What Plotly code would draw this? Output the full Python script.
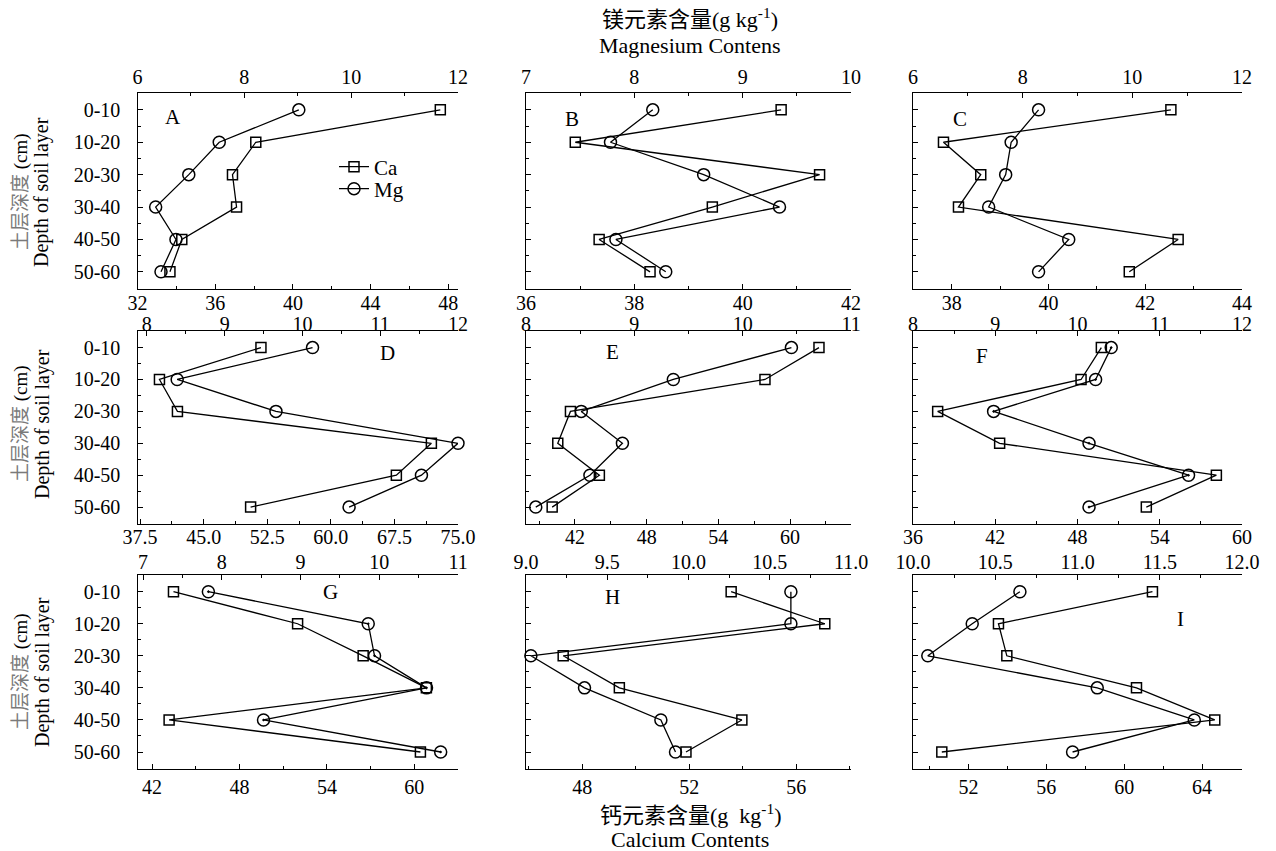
import plotly.graph_objects as go

# ---------------- data ----------------
depths = ["0-10", "10-20", "20-30", "30-40", "40-50", "50-60"]
panel_names = ["A", "B", "C", "D", "E", "F", "G", "H", "I"]

ca_A = [47.59, 38.09, 36.89, 37.10, 34.28, 33.67]
mg_A = [9.02, 7.53, 6.96, 6.34, 6.72, 6.44]
ca_B = [40.71, 36.91, 41.42, 39.44, 37.35, 38.29]
mg_B = [8.17, 7.78, 8.64, 9.34, 7.83, 8.29]
ca_C = [42.53, 37.83, 38.60, 38.14, 42.68, 41.67]
mg_C = [8.29, 7.79, 7.69, 7.38, 8.84, 8.29]
ca_D = [51.76, 39.79, 41.91, 71.86, 67.73, 50.54]
mg_D = [10.13, 8.39, 9.66, 12.0, 11.53, 10.60]
ca_E = [62.42, 57.90, 41.62, 40.56, 44.04, 40.09]
mg_E = [10.45, 9.36, 8.51, 8.89, 8.59, 8.09]
ca_F = [49.74, 48.26, 37.80, 42.32, 58.13, 53.02]
mg_F = [10.41, 10.22, 8.98, 10.14, 11.35, 10.14]
ca_G = [43.47, 51.99, 56.49, 60.83, 43.17, 60.42]
mg_G = [7.83, 9.86, 9.94, 10.60, 8.53, 10.78]
ca_H = [53.57, 57.07, 47.29, 49.39, 53.97, 51.88]
mg_H = [10.63, 10.63, 9.03, 9.36, 9.83, 9.92]
ca_I = [61.45, 53.54, 53.97, 60.63, 64.65, 50.63]
mg_I = [10.65, 10.36, 10.09, 11.12, 11.71, 10.97]

ca_all = [ca_A, ca_B, ca_C, ca_D, ca_E, ca_F, ca_G, ca_H, ca_I]
mg_all = [mg_A, mg_B, mg_C, mg_D, mg_E, mg_F, mg_G, mg_H, mg_I]

# axis settings per panel: (range, tick0, dtick, format)
ca_axes = [
    ([32, 48.5], 32, 4, ""), ([36, 42], 36, 2, ""), ([37.2, 44], 38, 2, ""),
    ([37.2, 75.0], 37.5, 7.5, ".1f"), ([37.9, 65.1], 42, 6, ""), ([36, 60], 36, 6, ""),
    ([41, 63], 42, 6, ""), ([45.9, 58.05], 48, 4, ""), ([49.15, 66.05], 52, 4, ""),
]
mg_axes = [
    ([6, 12], 6, 2, ""), ([7, 10], 7, 1, ""), ([6, 12], 6, 2, ""),
    ([7.88, 12], 8, 1, ""), ([8, 11], 8, 1, ""), ([8, 12], 8, 1, ""),
    ([6.93, 11], 7, 1, ""), ([9, 11], 9, 0.5, ".1f"), ([10, 12], 10, 0.5, ".1f"),
]
dot_circles = [False, False, False, False, False, True, True, False, False]

# ---------------- layout geometry ----------------
W, H = 1276, 851
col_px = [(137.5, 458), (526, 851), (913, 1242)]
row_px = [(93, 289), (331, 524), (575, 769)]
top_label_standoff = [0, -9, -3]
bottom_label_standoff = [-4, -5, 0]
letter_px = [(173, 117), (572, 119), (960, 119), (388, 353), (612, 352),
             (982, 356), (330, 592), (612, 597), (1180, 619)]

FONT = "Liberation Serif, Noto Sans CJK SC, serif"
tickfont = dict(family=FONT, size=20, color="black")

fig = go.Figure()
legend_common = dict(xanchor="left", yanchor="middle",
                     font=dict(family=FONT, size=21, color="black"),
                     bgcolor="rgba(0,0,0,0)", itemwidth=30, tracegroupgap=0)
layout = dict(
    width=W, height=H, margin=dict(l=0, r=0, t=0, b=0, autoexpand=False),
    paper_bgcolor="white", plot_bgcolor="white",
    font=dict(family=FONT, color="black"),
    showlegend=True,
    legend=dict(legend_common, x=334 / W, y=1 - 167 / H),
    legend2=dict(legend_common, x=334 / W, y=1 - 189 / H),
)

yidx = list(range(len(depths)))

def axname(kind, n):
    return kind + ("axis" if n == 1 else f"axis{n}")

def axref(kind, n):
    return kind + ("" if n == 1 else str(n))

for i in range(9):
    r, c = divmod(i, 3)
    x0, x1 = col_px[c]
    y0, y1 = row_px[r]
    bx, tx, yy = 2 * i + 1, 2 * i + 2, i + 1
    common = dict(showgrid=False, zeroline=False, showline=True, linecolor="black",
                  linewidth=1.3, ticks="inside", ticklen=5, tickwidth=1.2,
                  tickcolor="black", tickfont=tickfont, mirror=False, automargin=False,
                  minor=dict(ticks="inside", ticklen=3, tickcolor="black", tickwidth=1))
    rng, t0, dt, fmt = ca_axes[i]
    layout[axname("x", bx)] = dict(
        common, domain=[x0 / W, x1 / W], anchor=axref("y", yy), side="bottom",
        range=rng, tick0=t0, dtick=dt, tickformat=fmt,
        ticklabelstandoff=bottom_label_standoff[r],
        minor=dict(common["minor"], dtick=dt / 2, tick0=t0))
    rng, t0, dt, fmt = mg_axes[i]
    layout[axname("x", tx)] = dict(
        common, overlaying=axref("x", bx), anchor=axref("y", yy), side="top",
        range=rng, tick0=t0, dtick=dt, tickformat=fmt,
        ticklabelstandoff=top_label_standoff[r],
        minor=dict(common["minor"], dtick=dt / 2, tick0=t0))
    layout[axname("y", yy)] = dict(
        common, domain=[1 - y1 / H, 1 - y0 / H], anchor=axref("x", bx),
        range=[5.53, -0.52], tickmode="array", tickvals=yidx, ticktext=depths,
        showticklabels=(c == 0), ticklabelstandoff=12,
        minor=dict(common["minor"], tickmode="array",
                   tickvals=[v + 0.5 for v in yidx[:-1]]))

    fig.add_trace(go.Scatter(
        x=ca_all[i], y=yidx, xaxis=axref("x", bx), yaxis=axref("y", yy),
        mode="lines+markers", name="Ca", showlegend=(i == 0), legend="legend",
        cliponaxis=False,
        line=dict(color="black", width=1.3),
        marker=dict(symbol="square-open", size=10, color="black",
                    line=dict(width=1.5, color="black"))))
    fig.add_trace(go.Scatter(
        x=mg_all[i], y=yidx, xaxis=axref("x", tx), yaxis=axref("y", yy),
        mode="lines+markers", name="Mg", showlegend=(i == 0), legend="legend2",
        cliponaxis=False,
        line=dict(color="black", width=1.3),
        marker=dict(symbol="circle-open-dot" if dot_circles[i] else "circle-open",
                    size=12, color="black", line=dict(width=1.5, color="black"))))

annotations = []
for name, (px, py) in zip(panel_names, letter_px):
    annotations.append(dict(text=name, x=px / W, y=1 - py / H, xref="paper", yref="paper",
                            showarrow=False, xanchor="center", yanchor="middle",
                            font=dict(family=FONT, size=21, color="black")))

row_centers = [192, 424, 672]
for cy in row_centers:
    annotations.append(dict(text='<span style="color:#7a7a7a">土层深度</span> (cm)',
                            x=21 / W, y=1 - cy / H, xref="paper", yref="paper",
                            showarrow=False, textangle=-90, xanchor="center", yanchor="middle",
                            font=dict(family=FONT, size=19, color="black")))
    annotations.append(dict(text="Depth of soil layer",
                            x=42 / W, y=1 - cy / H, xref="paper", yref="paper",
                            showarrow=False, textangle=-90, xanchor="center", yanchor="middle",
                            font=dict(family=FONT, size=20, color="black")))

titles = [("镁元素含量(g kg<sup>-1</sup>)", 690, 18, 22), ("Magnesium Contens", 690, 45, 22),
          ("钙元素含量(g  kg<sup>-1</sup>)", 690, 814, 22), ("Calcium Contents", 690, 839, 22)]
for txt, px, py, fs in titles:
    annotations.append(dict(text=txt, x=px / W, y=1 - py / H, xref="paper", yref="paper",
                            showarrow=False, xanchor="center", yanchor="middle",
                            font=dict(family=FONT, size=fs, color="black")))

layout["annotations"] = annotations
fig.update_layout(**layout)

fig.write_html("out.html", include_plotlyjs=True, full_html=True,
               config={"displayModeBar": False},
               post_script="document.body.style.margin='0';document.body.style.overflow='hidden';")
